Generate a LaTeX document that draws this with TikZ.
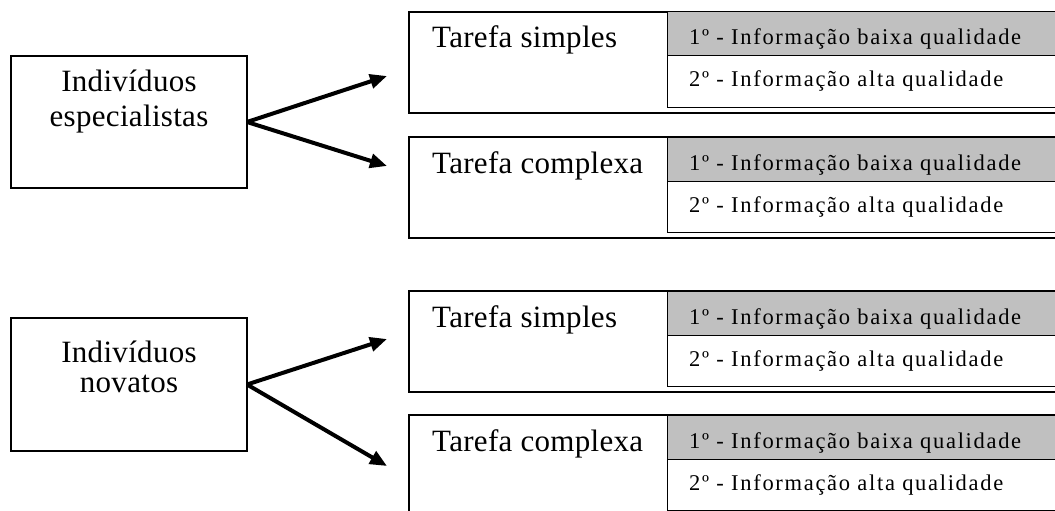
\documentclass[tikz,border=0pt]{standalone}
\usepackage{fontspec}
\setmainfont{Liberation Serif}
\newfontfamily\bigfam[LetterSpace=1]{Liberation Serif}
\newfontfamily\smallfam[LetterSpace=7.5]{Liberation Serif}
\usetikzlibrary{arrows.meta}
\definecolor{cellgray}{RGB}{192,192,192}
\begin{document}
\begin{tikzpicture}[x=1pt,y=-1pt,
  box/.style={draw, line width=1.2pt, inner sep=0pt, outer sep=0pt, anchor=north west},
  grp/.style={box, minimum width=660pt, minimum height=101pt},
  cell/.style={draw, line width=1pt, inner sep=0pt, outer sep=0pt, anchor=north west, minimum width=400pt},
  graycell/.style={cell, fill=cellgray, minimum height=44pt},
  whitecell/.style={cell, minimum height=51pt},
  bigt/.style={font=\bigfam\fontsize{31}{36}\selectfont, inner sep=0pt, anchor=base west},
  smallt/.style={font=\smallfam\fontsize{22.5}{26}\selectfont, inner sep=0pt, anchor=base west},
  arr/.style={line width=4pt, -{Triangle[length=17pt,width=14pt]}}
]
\useasboundingbox (0,0) rectangle (1055,511);

% left boxes
\node[box, minimum width=236pt, minimum height=132pt] (esp) at (11,56) {};
\node[bigt, anchor=base] (esp1) at (129,92) {Indivíduos};
\node[bigt, anchor=base] (esp2) at (129,126) {especialistas};

\node[box, minimum width=236pt, minimum height=133pt] (nov) at (11,318) {};
\node[bigt, anchor=base] (nov1) at (129,362) {Indivíduos};
\node[bigt, anchor=base] (nov2) at (129,392) {novatos};

% group 1
\node[grp] (g1) at (409,12) {};
\node[graycell] (g1a) at (667,12) {};
\node[whitecell] (g1b) at (667,56) {};
\node[bigt] (g1t) at (432,48) {Tarefa simples};
\node[smallt] (g1at) at (689,45) {1º - Informação baixa qualidade};
\node[smallt] (g1bt) at (689,87) {2º - Informação alta qualidade};

% group 2
\node[grp] (g2) at (409,137) {};
\node[graycell] (g2a) at (667,137) {};
\node[whitecell] (g2b) at (667,181) {};
\node[bigt] (g2t) at (432,173) {Tarefa complexa};
\node[smallt] (g2at) at (689,170) {1º - Informação baixa qualidade};
\node[smallt] (g2bt) at (689,212) {2º - Informação alta qualidade};

% group 3
\node[grp] (g3) at (409,291) {};
\node[graycell] (g3a) at (667,291) {};
\node[whitecell] (g3b) at (667,335) {};
\node[bigt] (g3t) at (432,327) {Tarefa simples};
\node[smallt] (g3at) at (689,324) {1º - Informação baixa qualidade};
\node[smallt] (g3bt) at (689,366) {2º - Informação alta qualidade};

% group 4
\node[grp] (g4) at (409,415) {};
\node[graycell] (g4a) at (667,415) {};
\node[whitecell] (g4b) at (667,459) {};
\node[bigt] (g4t) at (432,451) {Tarefa complexa};
\node[smallt] (g4at) at (689,448) {1º - Informação baixa qualidade};
\node[smallt] (g4bt) at (689,490) {2º - Informação alta qualidade};

% arrows
\coordinate (t1) at (387,76);
\coordinate (t2) at (387,166);
\coordinate (t3) at (387,339);
\coordinate (t4) at (387,466);
\draw[arr] (esp.east) -- (t1);
\draw[arr] (esp.east) -- (t2);
\draw[arr] (nov.east) -- (t3);
\draw[arr] (nov.east) -- (t4);
\end{tikzpicture}
\end{document}
